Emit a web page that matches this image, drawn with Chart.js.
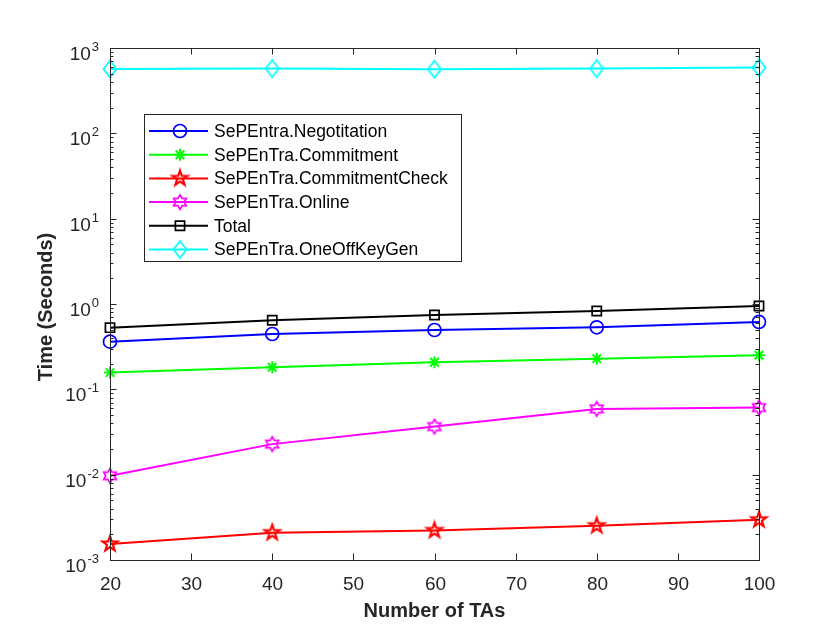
<!DOCTYPE html>
<html>
<head>
<meta charset="utf-8">
<script src="https://cdn.jsdelivr.net/npm/chart.js@4.4.0/dist/chart.umd.min.js"></script>
<style>
  html, body { margin: 0; padding: 0; background: #fff; }
  #wrap { width: 840px; height: 630px; }
</style>
</head>
<body>
<div id="wrap"><canvas id="chart" width="840" height="630"></canvas></div>
<script>
// ---------------------------------------------------------------- data
const numTAs = [20, 40, 60, 80, 100];
const negotiation = [0.362, 0.445, 0.496, 0.533, 0.616];
const commitment = [0.157, 0.1815, 0.208, 0.229, 0.251];
const commitmentCheck = [0.00154, 0.00209, 0.00222, 0.00252, 0.00296];
const online = [0.0097, 0.0228, 0.0366, 0.059, 0.0611];
const total = [0.528, 0.644, 0.743, 0.828, 0.948];
const oneOffKeyGen = [568, 574, 564, 574, 590];

const seriesLabels = ['SePEntra.Negotitation', 'SePEnTra.Commitment', 'SePEnTra.CommitmentCheck',
                      'SePEnTra.Online', 'Total', 'SePEnTra.OneOffKeyGen'];
const xTicks = [20, 30, 40, 50, 60, 70, 80, 90, 100];
const yExponents = [-3, -2, -1, 0, 1, 2, 3];

const axisColor = '#262626';

// ---------------------------------------------------------------- marker shapes (MATLAB style)
function markerCanvas(color, width, drawFn) {
    const c = document.createElement('canvas');
    c.width = 22; c.height = 22;
    const g = c.getContext('2d');
    g.strokeStyle = color;
    g.lineWidth = width;
    g.lineJoin = 'miter';
    g.beginPath();
    drawFn(g, 11, 11);
    g.closePath();
    g.stroke();
    return c;
}

function starPath(g, cx, cy, n, R, r) {
    for (let k = 0; k < 2 * n; k++) {
        const rad = (k % 2 === 0) ? R : r;
        const a = -Math.PI / 2 + k * Math.PI / n;
        const px = cx + rad * Math.cos(a), py = cy + rad * Math.sin(a);
        if (k === 0) g.moveTo(px, py); else g.lineTo(px, py);
    }
}

const pentagram = markerCanvas('#ff0000', 2.2, (g, cx, cy) => starPath(g, cx, cy, 5, 7.8, 3.1));
const hexagram = markerCanvas('#ff00ff', 1.7, (g, cx, cy) => starPath(g, cx, cy, 6, 7.3, 4.2));
const diamond = markerCanvas('#00ffff', 1.7, (g, cx, cy) => {
    g.moveTo(cx, cy - 8.5); g.lineTo(cx + 6.5, cy); g.lineTo(cx, cy + 8.5); g.lineTo(cx - 6.5, cy);
});

function series(label, values, color, style, radius, pw) {
    return {
        label: label,
        data: numTAs.map((x, i) => ({ x: x, y: values[i] })),
        borderColor: color,
        borderWidth: 2,
        pointStyle: style,
        pointRadius: radius,
        pointHoverRadius: radius,
        pointBorderColor: color,
        pointBackgroundColor: 'rgba(0,0,0,0)',
        pointBorderWidth: pw,
        tension: 0,
        clip: false
    };
}

// ---------------------------------------------------------------- axes, box and legend drawn MATLAB-like
const matlabAxes = {
    id: 'matlabAxes',
    afterDatasetsDraw(chart) {
        const ctx = chart.ctx;
        const a = chart.chartArea;
        const xs = chart.scales.x, ys = chart.scales.y;
        ctx.save();
        ctx.strokeStyle = axisColor;
        ctx.lineWidth = 1;

        // box
        ctx.strokeRect(Math.round(a.left) + 0.5, Math.round(a.top) + 0.5,
                       Math.round(a.right - a.left), Math.round(a.bottom - a.top));

        // x ticks bottom & top, inward
        ctx.fillStyle = axisColor;
        ctx.font = '19px "Liberation Sans", Arial, sans-serif';
        ctx.textAlign = 'center';
        ctx.textBaseline = 'alphabetic';
        xTicks.forEach(v => {
            const px = Math.round(xs.getPixelForValue(v)) + 0.5;
            ctx.beginPath();
            ctx.moveTo(px, a.bottom); ctx.lineTo(px, a.bottom - 6.5);
            ctx.moveTo(px, a.top); ctx.lineTo(px, a.top + 6.5);
            ctx.stroke();
            ctx.fillText(String(v), px, a.bottom + 30);
        });

        // y decades + minor ticks
        yExponents.forEach((e, idx) => {
            const py = Math.round(ys.getPixelForValue(Math.pow(10, e))) + 0.5;
            ctx.beginPath();
            ctx.moveTo(a.left, py); ctx.lineTo(a.left + 6.5, py);
            ctx.moveTo(a.right, py); ctx.lineTo(a.right - 6.5, py);
            ctx.stroke();
            if (idx < yExponents.length - 1) {
                for (let m = 2; m <= 9; m++) {
                    const my = Math.round(ys.getPixelForValue(m * Math.pow(10, e))) + 0.5;
                    ctx.beginPath();
                    ctx.moveTo(a.left, my); ctx.lineTo(a.left + 3.5, my);
                    ctx.moveTo(a.right, my); ctx.lineTo(a.right - 3.5, my);
                    ctx.stroke();
                }
            }
            // label 10^e
            const expText = String(e);
            ctx.font = '13px "Liberation Sans", Arial, sans-serif';
            ctx.textAlign = 'right';
            const expW = ctx.measureText(expText).width;
            ctx.fillText(expText, a.left - 11, py + 2);
            ctx.font = '19px "Liberation Sans", Arial, sans-serif';
            ctx.fillText('10', a.left - 12 - expW, py + 11.5);
        });

        // axis titles
        ctx.font = 'bold 20px "Liberation Sans", Arial, sans-serif';
        ctx.textAlign = 'center';
        ctx.textBaseline = 'middle';
        ctx.fillText('Number of TAs', (a.left + a.right) / 2, 611);
        ctx.translate(46, 307);
        ctx.rotate(-Math.PI / 2);
        ctx.fillText('Time (Seconds)', 0, 0);
        ctx.restore();

        // legend box
        ctx.save();
        const lx = 144.5, ly = 114.5, lw = 317, lh = 147;
        ctx.fillStyle = '#ffffff';
        ctx.fillRect(lx, ly, lw, lh);
        ctx.strokeStyle = axisColor;
        ctx.lineWidth = 1;
        ctx.strokeRect(lx, ly, lw, lh);
        ctx.font = '17.5px "Liberation Sans", Arial, sans-serif';
        ctx.textAlign = 'left';
        ctx.textBaseline = 'middle';
        chart.data.datasets.forEach((ds, i) => {
            const ry = 131 + i * 23.7;
            ctx.strokeStyle = ds.borderColor;
            ctx.lineWidth = 2;
            ctx.beginPath();
            ctx.moveTo(149, ry); ctx.lineTo(208, ry);
            ctx.stroke();
            const st = ds.pointStyle;
            if (typeof st === 'object') {
                ctx.drawImage(st, 180 - st.width / 2, ry - st.height / 2);
            } else {
                ctx.fillStyle = 'rgba(0,0,0,0)';
                ctx.lineWidth = ds.pointBorderWidth;
                Chart.helpers.drawPoint(ctx, { pointStyle: st, radius: ds.pointRadius, rotation: 0, borderWidth: ds.pointBorderWidth }, 180, ry);
            }
            ctx.fillStyle = '#000000';
            ctx.fillText(ds.label, 214, ry + 1);
        });
        ctx.restore();
    }
};

new Chart(document.getElementById('chart'), {
    type: 'line',
    data: {
        datasets: [
            series(seriesLabels[0], negotiation, '#0000ff', 'circle', 6.5, 1.7),
            series(seriesLabels[1], commitment, '#00ff00', 'star', 6, 2),
            series(seriesLabels[2], commitmentCheck, '#ff0000', pentagram, 8, 2),
            series(seriesLabels[3], online, '#ff00ff', hexagram, 8, 1.7),
            series(seriesLabels[4], total, '#000000', 'rect', 6.5, 1.7),
            series(seriesLabels[5], oneOffKeyGen, '#00ffff', diamond, 8, 1.7)
        ]
    },
    options: {
        responsive: false,
        animation: false,
        devicePixelRatio: 1,
        layout: {
            padding: { left: 110, right: 81, top: 48, bottom: 70 }
        },
        plugins: {
            legend: { display: false },
            tooltip: { enabled: false }
        },
        scales: {
            x: {
                type: 'linear',
                min: 20,
                max: 100,
                display: false
            },
            y: {
                type: 'logarithmic',
                min: 0.001,
                max: 1000,
                display: false
            }
        }
    },
    plugins: [matlabAxes]
});
</script>
</body>
</html>
